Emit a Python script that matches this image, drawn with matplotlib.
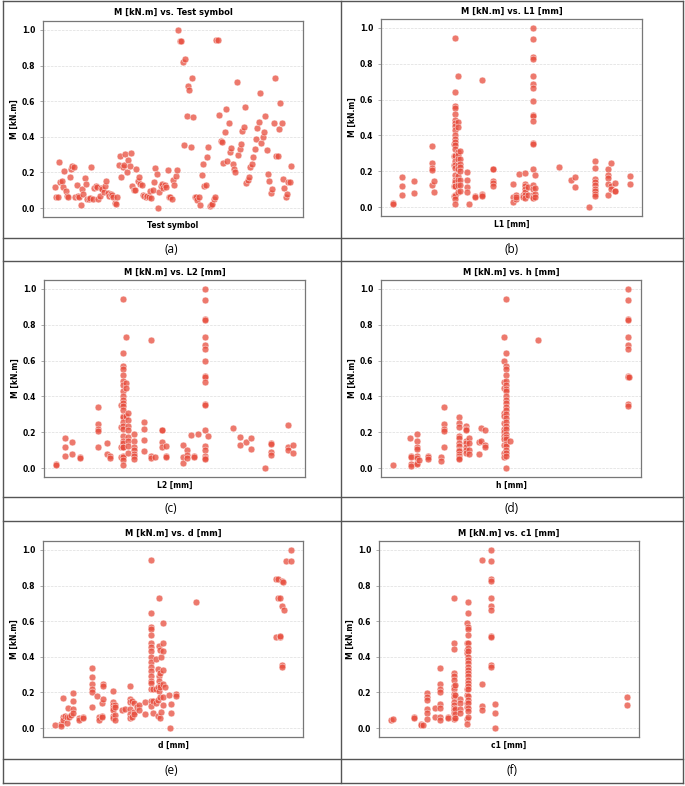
import numpy as np
import matplotlib
matplotlib.use("Agg")
from matplotlib import pyplot as plt
from matplotlib.lines import Line2D

# M [kN.m] per test, in test order
test_m = [0.12, 0.06, 0.06, 0.26, 0.145, 0.15, 0.12, 0.21, 0.095, 0.07,
          0.06, 0.175, 0.22, 0.235, 0.23, 0.06, 0.13, 0.07, 0.06, 0.015,
          0.105, 0.08, 0.17, 0.135, 0.05, 0.05, 0.055, 0.23, 0.05, 0.115,
          0.125, 0.12, 0.05, 0.07, 0.115, 0.105, 0.09, 0.125, 0.15, 0.085,
          0.07, 0.08, 0.075, 0.06, 0.03, 0.025, 0.065,
          0.24, 0.29, 0.175, 0.23, 0.24, 0.305, 0.205, 0.27, 0.235, 0.31,
          0.125, 0.10, 0.10, 0.22, 0.15, 0.175, 0.135, 0.13, 0.075, 0.07,
          0.06, 0.07, 0.06, 0.095, 0.055, 0.10, 0.145, 0.225, 0.19, 0.0,
          0.09, 0.125, 0.135, 0.115, 0.13, 0.12, 0.215, 0.065, 0.06, 0.05,
          0.16, 0.13, 0.18, 0.215,
          1.0, 0.94, 0.94, 0.82, 0.355, 0.835, 0.515, 0.685, 0.665, 0.345,
          0.73, 0.51, 0.06, 0.06, 0.045, 0.06, 0.015, 0.185, 0.245, 0.125,
          0.13, 0.285, 0.345, 0.01, 0.02, 0.025, 0.05, 0.065, 0.945, 0.945,
          0.52, 0.375, 0.37, 0.255, 0.425, 0.555, 0.265, 0.475, 0.315, 0.34,
          0.245, 0.22, 0.205, 0.71, 0.30, 0.33, 0.36, 0.43, 0.455, 0.565,
          0.14, 0.16, 0.175, 0.23, 0.25, 0.285, 0.33, 0.385, 0.45, 0.485,
          0.645, 0.365, 0.40, 0.425, 0.515, 0.325, 0.19, 0.15, 0.085, 0.105,
          0.475, 0.73, 0.29, 0.29, 0.445, 0.59, 0.48, 0.165, 0.11, 0.065,
          0.08, 0.145, 0.145, 0.235]

# L1 [mm]: x values and the M values measured at each
l1_x = [152, 178, 216, 270, 276, 335, 338, 348, 354, 374, 380, 398, 418,
        452, 510, 520, 530, 540, 548, 555, 570, 578, 648, 686, 698, 738,
        757, 795, 805, 817, 862]
l1_m = [[0.025, 0.015], [0.17, 0.115, 0.065], [0.145, 0.08],
        [0.34, 0.245, 0.22, 0.205, 0.125], [0.145, 0.085],
        [0.35, 0.285, 0.235, 0.12, 0.06],
        [0.945, 0.645, 0.565, 0.555, 0.52, 0.485, 0.47, 0.45, 0.43, 0.40,
         0.38, 0.365, 0.345, 0.325, 0.29, 0.285, 0.255, 0.235, 0.22, 0.18,
         0.15, 0.14, 0.12, 0.115, 0.07, 0.06, 0.045, 0.015],
        [0.73, 0.475, 0.445, 0.31, 0.29, 0.27, 0.235, 0.21, 0.175, 0.15,
         0.125, 0.085],
        [0.315, 0.27, 0.24, 0.225, 0.20, 0.15, 0.125, 0.09],
        [0.195, 0.15, 0.11, 0.085], [0.015], [0.06, 0.055],
        [0.71, 0.075, 0.07, 0.06], [0.21, 0.21, 0.145, 0.135, 0.12],
        [0.13, 0.055, 0.03], [0.065, 0.045, 0.055], [0.185], [0.065, 0.055],
        [0.19, 0.13, 0.12, 0.10, 0.085, 0.07, 0.05], [0.11, 0.07],
        [1.0, 0.94, 0.84, 0.825, 0.73, 0.685, 0.665, 0.59, 0.515, 0.51,
         0.48, 0.355, 0.35, 0.215, 0.125, 0.10, 0.07, 0.055, 0.05],
        [0.18, 0.105, 0.075, 0.055], [0.225], [0.15], [0.165, 0.11], [0.0],
        [0.255, 0.22, 0.155, 0.14, 0.125, 0.10, 0.09, 0.075, 0.06],
        [0.215, 0.18, 0.16, 0.13, 0.065], [0.245, 0.12, 0.10],
        [0.135, 0.09, 0.09], [0.175, 0.13]]

# L2 [mm]
l2_x = [168, 196, 216, 240, 293, 320, 330, 362, 368, 377, 383, 402, 432,
        452, 465, 487, 497, 548, 560, 572, 582, 592, 613, 624, 697, 718,
        738, 752, 793, 813, 864, 878]
l2_m = [[0.025, 0.015], [0.17, 0.115, 0.065], [0.145, 0.08], [0.06, 0.055],
        [0.34, 0.245, 0.22, 0.205, 0.12], [0.14, 0.08], [0.065, 0.055],
        [0.35, 0.23, 0.115, 0.06],
        [0.945, 0.645, 0.57, 0.555, 0.52, 0.485, 0.465, 0.43, 0.40, 0.38,
         0.365, 0.345, 0.325, 0.29, 0.285, 0.255, 0.235, 0.22, 0.18, 0.15,
         0.14, 0.12, 0.115, 0.07, 0.06, 0.045, 0.015],
        [0.73, 0.475, 0.445, 0.29],
        [0.31, 0.27, 0.235, 0.215, 0.175, 0.15, 0.125, 0.085],
        [0.19, 0.15, 0.12, 0.10, 0.08, 0.065, 0.05],
        [0.255, 0.22, 0.155, 0.095], [0.715, 0.07, 0.055], [0.06],
        [0.21, 0.21, 0.145, 0.12], [0.125, 0.07, 0.06], [0.13, 0.06, 0.03],
        [0.10, 0.075, 0.055], [0.185], [0.065, 0.06], [0.19],
        [1.0, 0.94, 0.835, 0.825, 0.73, 0.685, 0.665, 0.595, 0.515, 0.51,
         0.48, 0.355, 0.35, 0.215, 0.125, 0.10, 0.07, 0.055, 0.05],
        [0.18], [0.225], [0.175, 0.13], [0.145], [0.165, 0.105], [0.0],
        [0.14, 0.135, 0.09, 0.075], [0.24, 0.12, 0.10], [0.13, 0.085]]

# h [mm]
h_x = [152, 205, 208, 224, 230, 258, 298, 306, 350, 373, 382, 410, 411,
       418, 430, 485, 492, 503, 590, 858, 863]
h_m = [[0.015], [0.17], [0.07, 0.06, 0.025, 0.01],
       [0.19, 0.15, 0.115, 0.105, 0.065, 0.055, 0.03, 0.025], [0.045],
       [0.065, 0.06, 0.05], [0.06, 0.04], [0.34, 0.245, 0.22, 0.205, 0.12],
       [0.285, 0.25, 0.23, 0.18, 0.165, 0.14, 0.125, 0.10, 0.095, 0.08,
        0.07, 0.055, 0.05],
       [0.235, 0.22, 0.21, 0.15, 0.14, 0.115, 0.10, 0.085],
       [0.165, 0.14, 0.10, 0.08], [0.08], [0.145], [0.225, 0.15],
       [0.215, 0.13, 0.12],
       [0.73, 0.595, 0.48, 0.445, 0.31, 0.29, 0.25, 0.22, 0.20, 0.18, 0.16,
        0.13, 0.085, 0.06],
       [0.945, 0.645, 0.57, 0.555, 0.52, 0.485, 0.465, 0.44, 0.43, 0.40,
        0.38, 0.365, 0.34, 0.325, 0.30, 0.28, 0.255, 0.235, 0.22, 0.19,
        0.175, 0.16, 0.135, 0.125, 0.10, 0.085, 0.065, 0.0],
       [0.15], [0.715],
       [1.0, 0.94, 0.835, 0.825, 0.73, 0.685, 0.665, 0.515, 0.51, 0.355,
        0.345],
       [0.51]]

# d [mm]
d_x = [163, 183, 187, 193, 200, 202, 207, 213, 219, 237, 248, 276, 290,
       295, 304, 308, 338, 345, 365, 375, 388, 395, 402, 410, 417, 435,
       453, 458, 467, 472, 476, 480, 483, 487, 495, 505, 510, 513, 528,
       588, 826, 833, 838, 840, 845, 848, 851, 858, 873]
d_m = [[0.015], [0.025, 0.01], [0.17, 0.06, 0.045], [0.07], [0.065, 0.03],
       [0.115], [0.065], [0.075], [0.195, 0.15, 0.105, 0.085],
       [0.055, 0.045], [0.065, 0.055],
       [0.34, 0.285, 0.245, 0.22, 0.205, 0.12], [0.18], [0.06, 0.045],
       [0.14, 0.07, 0.065], [0.25, 0.235, 0.165],
       [0.21, 0.145, 0.13, 0.115, 0.10, 0.07, 0.055],
       [0.13, 0.12, 0.075, 0.045], [0.10], [0.105],
       [0.235, 0.165, 0.145, 0.105, 0.08, 0.055], [0.15, 0.06],
       [0.14, 0.09, 0.08], [0.12], [0.13, 0.10], [0.145, 0.08],
       [0.945, 0.645, 0.57, 0.555, 0.52, 0.48, 0.455, 0.43, 0.40, 0.37,
        0.345, 0.32, 0.29, 0.265, 0.255, 0.22, 0.15, 0.125],
       [0.22, 0.15, 0.085], [0.385, 0.22, 0.14], [0.33, 0.23, 0.16, 0.07],
       [0.73, 0.46, 0.29, 0.265, 0.21], [0.44, 0.31, 0.24, 0.23, 0.175, 0.055],
       [0.40, 0.09], [0.59, 0.48, 0.435, 0.325, 0.245, 0.175, 0.13],
       [0.23], [0.185], [0.0], [0.135, 0.085], [0.19, 0.18], [0.71],
       [0.835, 0.51], [0.835, 0.73], [0.73], [0.51, 0.515],
       [0.825, 0.685, 0.355, 0.345], [0.82], [0.665], [0.94], [1.0, 0.94]]

# c1 [mm]
c1_x = [145, 152, 215, 235, 243, 253, 278, 294, 316, 334, 337, 352, 373,
        378, 418, 446, 459, 856]
c1_m = [[0.045], [0.05], [0.065, 0.055], [0.025, 0.015], [0.015],
        [0.195, 0.175, 0.155, 0.105, 0.085, 0.05], [0.11, 0.065],
        [0.34, 0.245, 0.22, 0.205, 0.135, 0.115, 0.06, 0.045],
        [0.065, 0.055],
        [0.73, 0.475, 0.445, 0.31, 0.295, 0.27, 0.235, 0.22, 0.19, 0.175,
         0.145, 0.13, 0.115, 0.10, 0.085, 0.065, 0.05],
        [0.24, 0.185, 0.105, 0.08, 0.055], [0.165, 0.14, 0.105, 0.085],
        [0.59, 0.48, 0.44, 0.42, 0.22, 0.185, 0.14, 0.12, 0.05, 0.025],
        [0.71, 0.645, 0.565, 0.555, 0.52, 0.48, 0.45, 0.43, 0.40, 0.38,
         0.365, 0.345, 0.325, 0.31, 0.29, 0.27, 0.255, 0.235, 0.22, 0.18,
         0.16, 0.14, 0.115, 0.095, 0.065],
        [0.945, 0.245, 0.125, 0.10],
        [1.0, 0.94, 0.835, 0.825, 0.73, 0.685, 0.665, 0.515, 0.51, 0.355,
         0.345],
        [0.135, 0.085, 0.0], [0.175, 0.13]]


def aplanar(xs, ms):
    x_out, m_out = [], []
    for x, col in zip(xs, ms):
        for m in col:
            x_out.append(x)
            m_out.append(m)
    return x_out, m_out


def faz_scatter(ax, x, m, nome):
    ax.scatter(x, m, s=24, color="#e74c3c", alpha=0.75,
               edgecolors="white", linewidths=0.4, zorder=3)
    ax.set_title(f"M [kN.m] vs. {nome}", fontsize=6, fontweight="bold", pad=4)
    ax.set_xlabel(nome, fontsize=5.5, fontweight="bold", labelpad=3)
    ax.set_ylabel("M [kN.m]", fontsize=5.5, fontweight="bold", labelpad=2)
    ax.set_xticks([])
    ax.set_yticks([0.0, 0.2, 0.4, 0.6, 0.8, 1.0])
    ax.tick_params(axis="y", labelsize=5.5, length=2, width=0.5, color="#888888")
    for lbl in ax.get_yticklabels():
        lbl.set_fontweight("bold")
    ax.grid(axis="y", linestyle="--", linewidth=0.5, color="#dddddd", zorder=0)
    for sp in ax.spines.values():
        sp.set_color("#777777")
        sp.set_linewidth(0.9)


fig = plt.figure(figsize=(6.85, 7.86), dpi=100)

W, H = 685.0, 786.0
# axes boxes in pixels: left, top, right, bottom
caixas = [(43, 21, 303, 217), (381, 19, 642, 216),
          (44, 280, 305, 477), (381, 280, 641, 477),
          (43, 541, 303, 737), (379, 541, 639, 737)]

paineis = [
    (list(range(len(test_m))), test_m, "Test symbol"),
    aplanar(l1_x, l1_m) + ("L1 [mm]",),
    aplanar(l2_x, l2_m) + ("L2 [mm]",),
    aplanar(h_x, h_m) + ("h [mm]",),
    aplanar(d_x, d_m) + ("d [mm]",),
    aplanar(c1_x, c1_m) + ("c1 [mm]",),
]

for (l, t, r, b), (x, m, nome) in zip(caixas, paineis):
    ax = fig.add_axes([l / W, 1 - b / H, (r - l) / W, (b - t) / H])
    faz_scatter(ax, x, m, nome)

# table frame around the panels
linhas_h = [1, 238, 261, 497, 521, 759, 783]
for y in linhas_h:
    fig.add_artist(Line2D([2.5 / W, 682.5 / W], [1 - y / H, 1 - y / H],
                          color="#555555", linewidth=1.0))
for x in [2.5, 341, 682.5]:
    fig.add_artist(Line2D([x / W, x / W], [1 - 1 / H, 1 - 783 / H],
                          color="#555555", linewidth=1.0))

letras = ["(a)", "(b)", "(c)", "(d)", "(e)", "(f)"]
centros_y = [249.5, 249.5, 509, 509, 771, 771]
centros_x = [171, 512, 171, 512, 171, 512]
for letra, cx, cy in zip(letras, centros_x, centros_y):
    fig.text(cx / W, 1 - cy / H, letra, ha="center", va="center",
             fontsize=8.5, family="Open Sans")

fig.savefig("out.png", dpi=100)
